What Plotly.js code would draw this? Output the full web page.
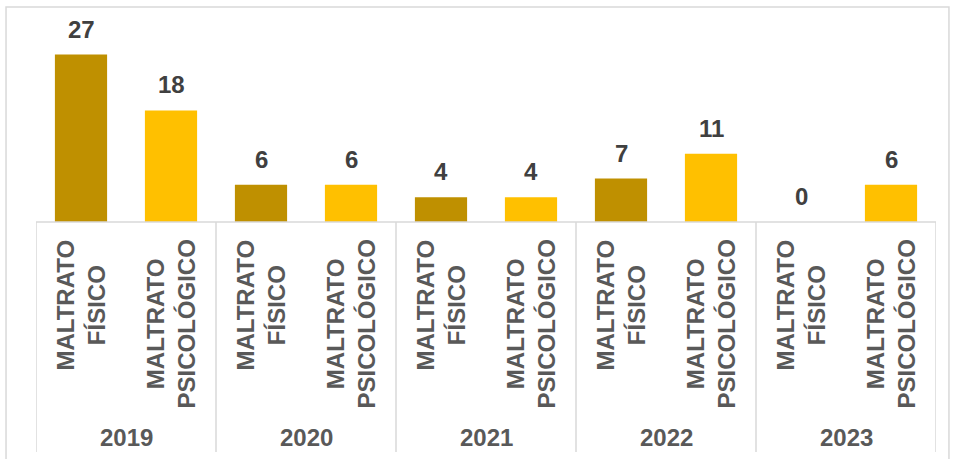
<!DOCTYPE html>
<html>
<head>
<meta charset="utf-8">
<script src="https://cdn.plot.ly/plotly-3.0.1.min.js"></script>
<style>html,body{margin:0;padding:0;background:#fff;}#chart{width:955px;height:459px;}</style>
</head>
<body>
<div id="chart"></div>
<script>
const years = ['2019', '2020', '2021', '2022', '2023'];
const typeLabels = ['MALTRATO<br>FÍSICO', 'MALTRATO<br>PSICOLÓGICO'];
const fisico = [27, 6, 4, 7, 0];
const psicologico = [18, 6, 4, 11, 6];

const FONT = 'Liberation Sans, Arial, sans-serif';
const xF = years.map((y, i) => 2 * i);
const xP = years.map((y, i) => 2 * i + 1);

const traces = [
  {type: 'bar', x: xF, y: fisico, width: 0.58, marker: {color: '#BF9000'}, hoverinfo: 'none'},
  {type: 'bar', x: xP, y: psicologico, width: 0.58, marker: {color: '#FFC000'}, hoverinfo: 'none'}
];

const annotations = [];
const shapes = [];
// value labels
[[xF, fisico], [xP, psicologico]].forEach(([xs, vals]) => {
  xs.forEach((x, i) => annotations.push({
    x: x, y: vals[i], xref: 'x', yref: 'y', text: String(vals[i]), showarrow: false,
    xanchor: 'center', yanchor: 'bottom', yshift: 10,
    font: {family: FONT, size: 24, color: '#404040', weight: 'bold'}
  }));
});
// category labels
years.forEach((y, i) => {
  typeLabels.forEach((t, j) => annotations.push({
    x: 2 * i + j, y: -0.086, xref: 'x', yref: 'paper', text: '<b>' + t + '</b>', showarrow: false,
    textangle: -90, xanchor: 'center', yanchor: 'top', align: 'center',
    font: {family: FONT, size: 24, color: '#595959'}
  }));
  annotations.push({
    x: 2 * i + 0.5, y: -1.161, xref: 'x', yref: 'paper', text: '<b>' + y + '</b>', showarrow: false,
    xanchor: 'center', yanchor: 'middle',
    font: {family: FONT, size: 24, color: '#595959'}
  });
});
// dividers
for (let i = 0; i <= years.length; i++) {
  shapes.push({type: 'line', xref: 'x', yref: 'paper', x0: 2 * i - 0.5, x1: 2 * i - 0.5, y0: 0, y1: -1.237,
    line: {color: '#D9D9D9', width: 1.5}});
}
// baseline
shapes.push({type: 'line', xref: 'paper', yref: 'paper', x0: 0, x1: 1, y0: 0, y1: 0, line: {color: '#D9D9D9', width: 1.5}});
// chart border
shapes.push({type: 'rect', xref: 'paper', yref: 'paper', x0: -0.0333, x1: 1.0144, y0: -1.30, y1: 1.156,
  line: {color: '#D9D9D9', width: 1.5}, fillcolor: 'rgba(0,0,0,0)'});

const layout = {
  width: 955, height: 459,
  margin: {l: 36, r: 19, t: 36, b: 237},
  paper_bgcolor: '#fff', plot_bgcolor: '#fff',
  showlegend: false,
  xaxis: {range: [-0.5, 9.5], showticklabels: false, showgrid: false, zeroline: false, ticks: '', fixedrange: true},
  yaxis: {range: [0, 30], showticklabels: false, showgrid: false, zeroline: false, ticks: '', fixedrange: true},
  annotations: annotations,
  shapes: shapes
};
Plotly.newPlot('chart', traces, layout, {displayModeBar: false, staticPlot: true});
</script>
</body>
</html>
